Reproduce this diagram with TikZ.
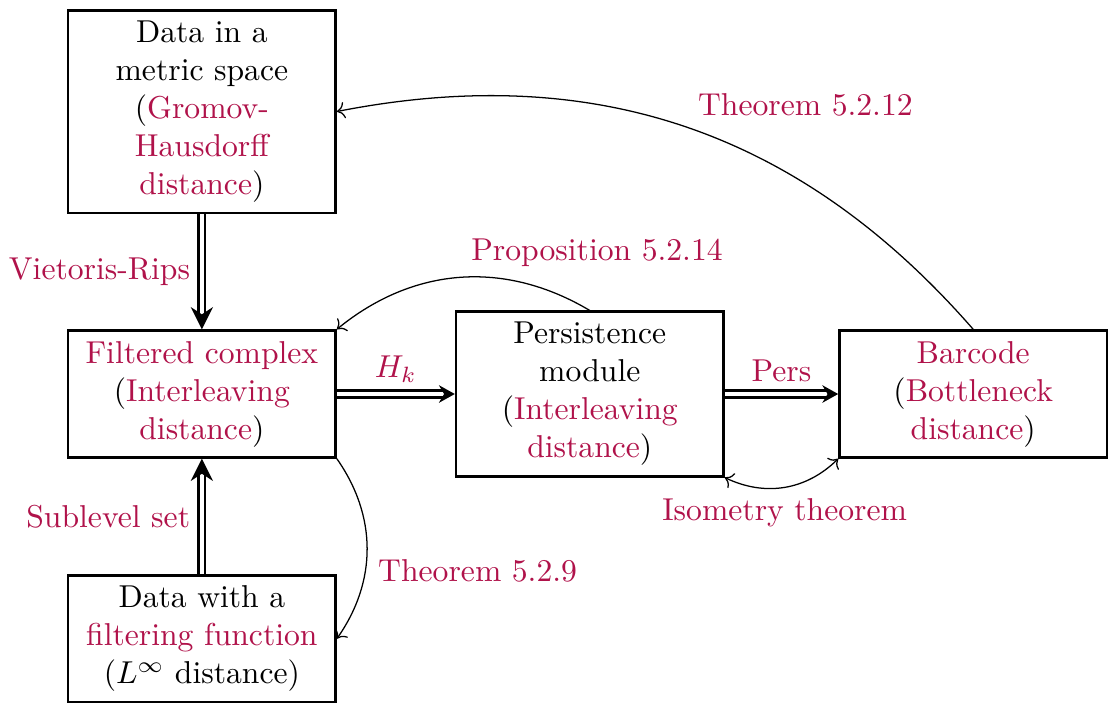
\documentclass[tikz,border=0pt]{standalone}
\usepackage{amsmath}
\usetikzlibrary{positioning,calc,arrows.meta}
\definecolor{accent}{rgb}{0.69,0.07,0.29}
\tikzset{
  box/.style={draw,thick,align=center,minimum width=2.97cm,inner sep=3.33pt},
  imp/.style={double,thick,double distance=1.3pt,-{Stealth[length=7pt,width=7pt]}},
  impsm/.style={imp,-{Stealth[length=5pt,width=5.5pt]}},
  ref/.style={->,thin},
  lbl/.style={text=accent}
}
\newcommand{\ac}[1]{\textcolor{accent}{#1}}

\begin{document}
\begin{tikzpicture}
  % the five objects
  \node[box] (filt) at (0,0) {\ac{Filtered complex}\\(\ac{Interleaving}\\\ac{distance})};
  \node[box,above=1.28cm of filt] (data) {Data in a\\metric space\\(\ac{Gromov-}\\\ac{Hausdorff}\\\ac{distance})};
  \node[box,below=1.28cm of filt] (sub) {Data with a\\\ac{filtering function}\\($L^\infty$ distance)};
  \node[box,right=1.31cm of filt] (pers) {Persistence\\module\\(\ac{Interleaving}\\\ac{distance})};
  \node[box,right=1.26cm of pers] (bar) {\ac{Barcode}\\(\ac{Bottleneck}\\\ac{distance})};

  % functors
  \draw[imp] (data) -- node[left,lbl] {Vietoris-Rips} (filt);
  \draw[imp] (sub) -- node[left,lbl] {Sublevel set} (filt);
  \draw[impsm] (filt) -- node[above,lbl] {$H_k$} (pers);
  \draw[impsm] (pers) -- node[above,lbl] {Pers} (bar);

  % stability results
  \draw[ref] (bar.north) to[bend right] node[above right,lbl] {Theorem 5.2.12} (data.east);
  \draw[ref] (pers.north) to[bend right=35] node[above right,lbl] {Proposition 5.2.14} (filt.north east);
  \draw[ref] (filt.south east) to[bend left=35] node[below right,lbl] {Theorem 5.2.9} (sub.east);
  \draw[ref,<->] (pers.south east) to[bend right=35] node[below,lbl] {Isometry theorem} (bar.south west);

  \pgfresetboundingbox
  \path[use as bounding box] ($(sub.south west)+(-0.743,-0.02)$) rectangle ($(data.north -| bar.east)+(0.02,0.1)$);
\end{tikzpicture}
\end{document}
